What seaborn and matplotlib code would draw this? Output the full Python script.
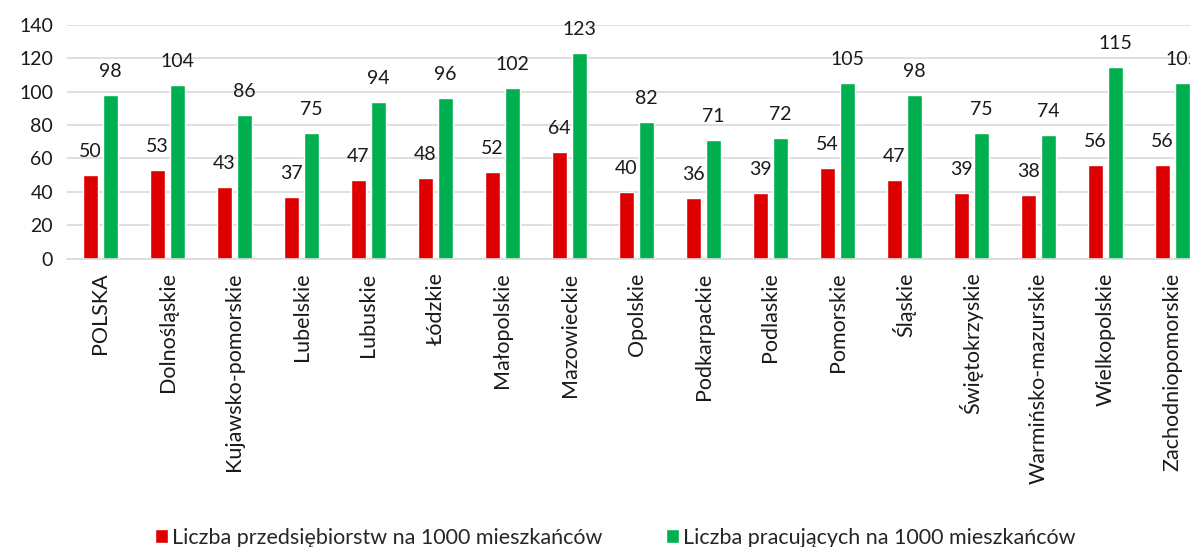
import numpy as np
import pandas as pd
import matplotlib
matplotlib.use("Agg")
import matplotlib.pyplot as plt
import seaborn as sns

regions = ["POLSKA", "Dolnośląskie", "Kujawsko-pomorskie", "Lubelskie", "Lubuskie",
           "Łódzkie", "Małopolskie", "Mazowieckie", "Opolskie", "Podkarpackie",
           "Podlaskie", "Pomorskie", "Śląskie", "Świętokrzyskie",
           "Warmińsko-mazurskie", "Wielkopolskie", "Zachodniopomorskie"]
firms = [50, 53, 43, 37, 47, 48, 52, 64, 40, 36, 39, 54, 47, 39, 38, 56, 56]
workers = [98, 104, 86, 75, 94, 96, 102, 123, 82, 71, 72, 105, 98, 75, 74, 115, 105]

s_firms = "Liczba przedsiębiorstw na 1000 mieszkańców"
s_workers = "Liczba pracujących na 1000 mieszkańców"

df = pd.DataFrame({
    "region": regions * 2,
    "value": firms + workers,
    "series": [s_firms] * len(regions) + [s_workers] * len(regions),
})

sns.set_style("white")
plt.rcParams['font.family'] = ['Lato', 'DejaVu Sans']

fig = plt.figure(figsize=(11.9, 5.47), dpi=100)
ax = fig.add_axes([67 / 1190, 288.5 / 547, 1139 / 1190, 233.5 / 547])

palette = {s_firms: "#DE0000", s_workers: "#00B050"}
sns.barplot(data=df, x="region", y="value", hue="series", palette=palette,
            width=0.6, gap=0.25, ax=ax, saturation=1, legend=True)

for cont in ax.containers:
    for bar in cont:
        h = bar.get_height()
        ax.annotate(f"{h:.0f}", (bar.get_x() + bar.get_width() / 2, h),
                    xytext=(0, 17), textcoords="offset points",
                    ha="center", va="center", fontsize=14, color="#1a1a1a")

ax.set_ylim(0, 140)
ax.set_yticks(range(0, 141, 20))
ax.set_xlim(-0.5, len(regions) - 0.5)
ax.yaxis.grid(True, color="#D9D9D9", linewidth=1.2)
ax.set_axisbelow(True)
for sp in ["left", "right", "top"]:
    ax.spines[sp].set_visible(False)
ax.spines["bottom"].set_color("#D9D9D9")
ax.spines["bottom"].set_linewidth(1.2)
ax.tick_params(axis="y", length=0, labelsize=14, colors="#1a1a1a", pad=10)
ax.tick_params(axis="x", length=0, labelsize=15.5, colors="#1a1a1a", pad=10)
plt.setp(ax.get_xticklabels(), rotation=90)
ax.set_xlabel("")
ax.set_ylabel("")

handles, labels = ax.get_legend_handles_labels()
ax.get_legend().remove()
fig.legend(handles, labels, loc="center", bbox_to_anchor=(0.517, 0.017), ncol=2,
           frameon=False, fontsize=15.5, handlelength=0.6, handleheight=0.6,
           handletextpad=0.15, columnspacing=3.0, borderaxespad=0)

fig.savefig("out.png", dpi=100)
